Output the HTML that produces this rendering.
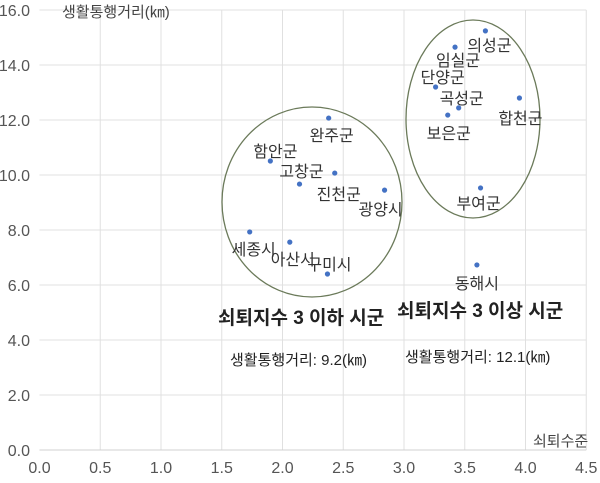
<!DOCTYPE html>
<html><head><meta charset="utf-8">
<style>
html,body{margin:0;padding:0;background:#fff;}
svg{display:block;font-family:"Liberation Sans","Noto Sans CJK KR",sans-serif;}
</style></head>
<body>
<svg id="chart" width="600" height="483" viewBox="0 0 600 483">
<g id="grid"></g>
<g id="axes"></g>
<g id="ellipses">
<ellipse cx="312" cy="202" rx="90" ry="95" fill="none" stroke="#6b7a5a" stroke-width="1.3"/>
<ellipse cx="473" cy="119" rx="67" ry="99" fill="none" stroke="#6b7a5a" stroke-width="1.3"/>
</g>
<g id="points"></g>
<text x="62" y="17" font-size="15" fill="#444">생활통행거리(㎞)</text>
<text x="533" y="446" font-size="15" fill="#444">쇠퇴수준</text>
<text x="218" y="324" font-size="19" font-weight="bold" fill="#222">쇠퇴지수 3 이하 시군</text>
<text x="397" y="317" font-size="19" font-weight="bold" fill="#222">쇠퇴지수 3 이상 시군</text>
<text x="230" y="365" font-size="15" fill="#222">생활통행거리: 9.2(㎞)</text>
<text x="405" y="362" font-size="15" fill="#222">생활통행거리: 12.1(㎞)</text>
</svg>
<script>
const names = ["의성군","임실군","단양군","곡성군","보은군","합천군","부여군","동해시","완주군","함안군","고창군","진천군","광양시","세종시","아산시","구미시"];
const declineValues = [3.67,3.42,3.26,3.45,3.36,3.95,3.63,3.60,2.38,1.90,2.14,2.43,2.84,1.73,2.06,2.37];
const distanceValues = [15.24,14.65,13.2,12.44,12.18,12.8,9.53,6.73,12.07,10.51,9.67,10.07,9.45,7.93,7.56,6.40];
const xTicks = ["0.0","0.5","1.0","1.5","2.0","2.5","3.0","3.5","4.0","4.5"];
const yTicks = ["0.0","2.0","4.0","6.0","8.0","10.0","12.0","14.0","16.0"];
const labelDx = [4,3,7,3,1,1,-2,0,3,5,2,4,-4,4,3,2];
const labelDy = [20,19,-4,-4,24,26,21,24,23,-4,-7,27,25,23,23,-4];

const NS="http://www.w3.org/2000/svg";
function xs(v){return 39.5+v*121.5;}
function ys(v){return 450-v*27.5;}
function mk(t,a,p){const e=document.createElementNS(NS,t);for(const k in a)e.setAttribute(k,a[k]);p.appendChild(e);return e;}
const grid=document.getElementById('grid'),axes=document.getElementById('axes'),pts=document.getElementById('points');
xTicks.forEach(t=>{const v=parseFloat(t);
  if(v>0){const l=mk('line',{x1:xs(v),x2:xs(v),y1:ys(16),y2:ys(0),stroke:'#e0e0e0','stroke-width':1},grid);
  
  }
  const tx=mk('text',{x:xs(v),y:473,'text-anchor':'middle','font-size':16,fill:'#555'},axes);
  tx.textContent=t;
  
  
});
yTicks.forEach(t=>{const v=parseFloat(t);
  if(v>0){const l=mk('line',{x1:xs(0),x2:xs(4.5),y1:ys(v),y2:ys(v),stroke:'#e0e0e0','stroke-width':1},grid);
  
  }
  const tx=mk('text',{x:30,y:ys(v)+6,'text-anchor':'end','font-size':16,fill:'#555'},axes);
  tx.textContent=t;
  
  
});
const ax=mk('line',{x1:xs(0),x2:xs(4.5),y1:ys(0),y2:ys(0),stroke:'#d0d0d0','stroke-width':1},axes);


names.forEach((n,i)=>{
  const cx=xs(declineValues[i]),cy=ys(distanceValues[i]);
  const c=mk('circle',{cx:cx,cy:cy,r:2.6,fill:'#4472c4'},pts);
  
  
  const t=mk('text',{x:cx+labelDx[i],y:cy+labelDy[i],'text-anchor':'middle','font-size':16,fill:'#333'},pts);
  t.textContent=n;
  
  
});
</script>
</body></html>
